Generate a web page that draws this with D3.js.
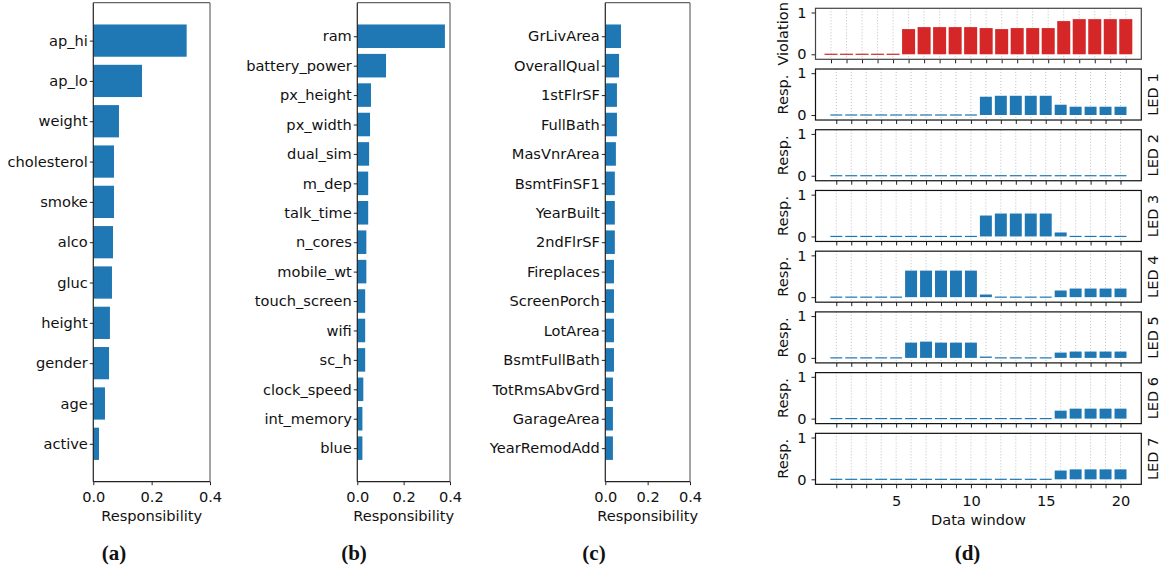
<!DOCTYPE html>
<html><head><meta charset="utf-8">
<script src="https://cdn.jsdelivr.net/npm/d3@7"></script>
<style>body{margin:0;background:#fff}svg{display:block}</style>
</head><body><svg id="c" width="1166" height="573" font-family="DejaVu Sans, sans-serif"></svg>
<script>
// ---- data ----
const catsA = ["ap_hi","ap_lo","weight","cholesterol","smoke","alco","gluc","height","gender","age","active"];
const valsA = [0.320,0.167,0.088,0.071,0.071,0.0675,0.064,0.057,0.054,0.040,0.0195];
const catsB = ["ram","battery_power","px_height","px_width","dual_sim","m_dep","talk_time","n_cores","mobile_wt","touch_screen","wifi","sc_h","clock_speed","int_memory","blue"];
const valsB = [0.378,0.124,0.059,0.055,0.051,0.047,0.047,0.039,0.039,0.034,0.034,0.034,0.026,0.022,0.022];
const catsC = ["GrLivArea","OverallQual","1stFlrSF","FullBath","MasVnrArea","BsmtFinSF1","YearBuilt","2ndFlrSF","Fireplaces","ScreenPorch","LotArea","BsmtFullBath","TotRmsAbvGrd","GarageArea","YearRemodAdd"];
const valsC = [0.074,0.065,0.055,0.055,0.050,0.045,0.045,0.045,0.041,0.041,0.041,0.041,0.036,0.036,0.036];
const respTicks = [0, 0.2, 0.4];
const panelLabels = ["(a)","(b)","(c)","(d)"];

const windows = d3.range(1, 21);
const violation = [0,0,0,0,0,0.603,0.65,0.65,0.65,0.65,0.627,0.603,0.627,0.627,0.627,0.794,0.841,0.841,0.841,0.841];
const led1 = [0,0,0,0,0,0,0,0,0,0,0.437,0.46,0.46,0.46,0.46,0.246,0.198,0.198,0.198,0.198];
const led2 = [0,0,0,0,0,0,0,0,0,0,0,0,0,0,0,0,0,0,0,0];
const led3 = [0,0,0,0,0,0,0,0,0,0,0.5,0.548,0.548,0.548,0.548,0.095,0,0,0,0];
const led4 = [0,0,0,0,0,0.635,0.635,0.635,0.635,0.635,0.063,0,0,0,0,0.159,0.206,0.206,0.206,0.206];
const led5 = [0,0,0,0,0,0.365,0.389,0.365,0.365,0.365,0.032,0,0,0,0,0.127,0.151,0.151,0.151,0.151];
const led6 = [0,0,0,0,0,0,0,0,0,0,0,0,0,0,0,0.19,0.238,0.238,0.238,0.238];
const led7 = [0,0,0,0,0,0,0,0,0,0,0,0,0,0,0,0.21,0.238,0.238,0.238,0.238];
const ledNames = ["LED 1","LED 2","LED 3","LED 4","LED 5","LED 6","LED 7"];
const windowTickLabels = [5, 10, 15, 20];
const respYTicks = [0, 1];

// ---- drawing ----
const svg = d3.select("#c");
const FS = 14.6;
const TXT = "#111";
const BLUE = "#1f77b4", RED = "#d62728";
const SANS = "DejaVu Sans, sans-serif";
const SERIF = "Liberation Serif, DejaVu Serif, serif";

function styleAxis(g, size) {
  g.select(".domain").remove();
  g.selectAll(".tick line").attr("stroke", "#222").attr("stroke-width", 1);
  g.selectAll(".tick text").attr("font-size", size).attr("fill", TXT).attr("font-family", SANS);
}

function panelLabel(text, x) {
  svg.append("text").attr("x", x).attr("y", 560).attr("text-anchor", "middle")
    .attr("font-family", SERIF).attr("font-weight", "bold").attr("font-size", 21)
    .attr("fill", TXT).text(text);
}

function barhPanel(cats, vals, left, right, top, bottom, plabel, plabelX) {
  const x = d3.scaleLinear().domain([0, 0.4]).range([left, right]);
  const n = cats.length, span = (n - 1) + 0.8, m = 0.05 * span;
  const y = d3.scaleLinear().domain([-0.4 - m, n - 1 + 0.4 + m]).range([top, bottom]);
  const g = svg.append("g");
  g.selectAll("rect.bar").data(vals).join("rect").attr("class", "bar")
    .attr("x", x(0)).attr("width", d => x(d) - x(0))
    .attr("y", (d, i) => y(i - 0.4)).attr("height", (d, i) => y(i + 0.4) - y(i - 0.4))
    .attr("fill", BLUE);
  const ay = g.append("g").attr("transform", `translate(${left},0)`)
    .call(d3.axisLeft(y).tickValues(d3.range(n)).tickFormat(i => cats[i]).tickSize(3.5).tickPadding(2));
  styleAxis(ay, FS);
  const ax = g.append("g").attr("transform", `translate(0,${bottom})`)
    .call(d3.axisBottom(x).tickValues(respTicks).tickFormat(d3.format(".1f")).tickSize(3.5).tickPadding(6));
  styleAxis(ax, FS);
  g.append("line").attr("x1", left).attr("x2", right).attr("y1", top).attr("y2", top).attr("stroke", "#666").attr("stroke-width", 1.2);
  g.append("line").attr("x1", right).attr("x2", right).attr("y1", top).attr("y2", bottom).attr("stroke", "#666").attr("stroke-width", 1.2);
  g.append("line").attr("x1", left).attr("x2", left).attr("y1", top).attr("y2", bottom).attr("stroke", "#222").attr("stroke-width", 1.2);
  g.append("line").attr("x1", left).attr("x2", right).attr("y1", bottom).attr("y2", bottom).attr("stroke", "#222").attr("stroke-width", 1.2);
  g.append("text").attr("x", (left + right) / 2).attr("y", 516).attr("dy", "0.35em")
    .attr("text-anchor", "middle").attr("font-size", FS).attr("fill", TXT).text("Responsibility");
  panelLabel(plabel, plabelX);
}

barhPanel(catsA, valsA, 93.3, 210, 2.7, 481.7, panelLabels[0], 114);
barhPanel(catsB, valsB, 357.3, 450, 2.7, 481.7, panelLabels[1], 354);
barhPanel(catsC, valsC, 605.3, 690, 2.7, 481.7, panelLabels[2], 594);

// panel (d)
const dLeft = 815.5, dRight = 1141.3, pTop0 = 8.3, pH = 51, pPitch = 60.72;
const series = [violation, led1, led2, led3, led4, led5, led6, led7];
series.forEach((vals, k) => {
  const top = pTop0 + k * pPitch, bottom = top + pH;
  const x = k === 0 ? d3.scaleLinear().domain([0, 21]).range([dLeft, dRight])
                    : d3.scaleLinear().domain([-0.39, 21.39]).range([dLeft, dRight]);
  const bw = k === 0 ? 0.84 : 0.8;
  const y = d3.scaleLinear().domain([-0.12, 1.1]).range([bottom, top]);
  const g = svg.append("g");
  g.selectAll("line.grid").data(windows).join("line").attr("class", "grid")
    .attr("x1", d => x(d)).attr("x2", d => x(d)).attr("y1", top).attr("y2", bottom)
    .attr("stroke", "#b0b0b0").attr("stroke-width", 0.8).attr("stroke-dasharray", "1,2");
  g.selectAll("rect.bar").data(vals).join("rect").attr("class", "bar")
    .attr("x", (d, i) => x(windows[i] - bw / 2)).attr("width", (d, i) => x(windows[i] + bw / 2) - x(windows[i] - bw / 2))
    .attr("y", d => d > 0 ? y(d) : y(0) - 0.6).attr("height", d => d > 0 ? y(0) - y(d) : 1.2)
    .attr("fill", k === 0 ? RED : BLUE);
  const ay = g.append("g").attr("transform", `translate(${dLeft},0)`)
    .call(d3.axisLeft(y).tickValues(respYTicks).tickFormat(d3.format("d")).tickSize(4).tickPadding(5));
  styleAxis(ay, FS);
  const last = k === series.length - 1;
  const ax = g.append("g").attr("transform", `translate(0,${bottom})`)
    .call(d3.axisBottom(x).tickValues(windows).tickFormat(d => (last && windowTickLabels.includes(d)) ? d : "").tickSize(4).tickPadding(7.5));
  styleAxis(ax, FS);
  g.append("rect").attr("x", dLeft).attr("y", top).attr("width", dRight - dLeft).attr("height", pH)
    .attr("fill", "none").attr("stroke", k === 0 ? "#444" : "#111").attr("stroke-width", 1.2);
  const cy = (top + bottom) / 2;
  g.append("text").attr("transform", `translate(782.5,${cy}) rotate(-90)`).attr("dy", "0.35em")
    .attr("text-anchor", "middle").attr("font-size", FS).attr("fill", TXT).text(k === 0 ? "Violation" : "Resp.");
  if (k > 0) {
    g.append("text").attr("transform", `translate(1153,${cy}) rotate(-90)`).attr("dy", "0.35em")
      .attr("text-anchor", "middle").attr("font-size", FS).attr("fill", TXT).text(ledNames[k - 1]);
  }
});
svg.append("text").attr("x", (dLeft + dRight) / 2).attr("y", 520.3).attr("dy", "0.35em")
  .attr("text-anchor", "middle").attr("font-size", FS).attr("fill", TXT).text("Data window");
panelLabel(panelLabels[3], 967.5);
</script></body></html>
